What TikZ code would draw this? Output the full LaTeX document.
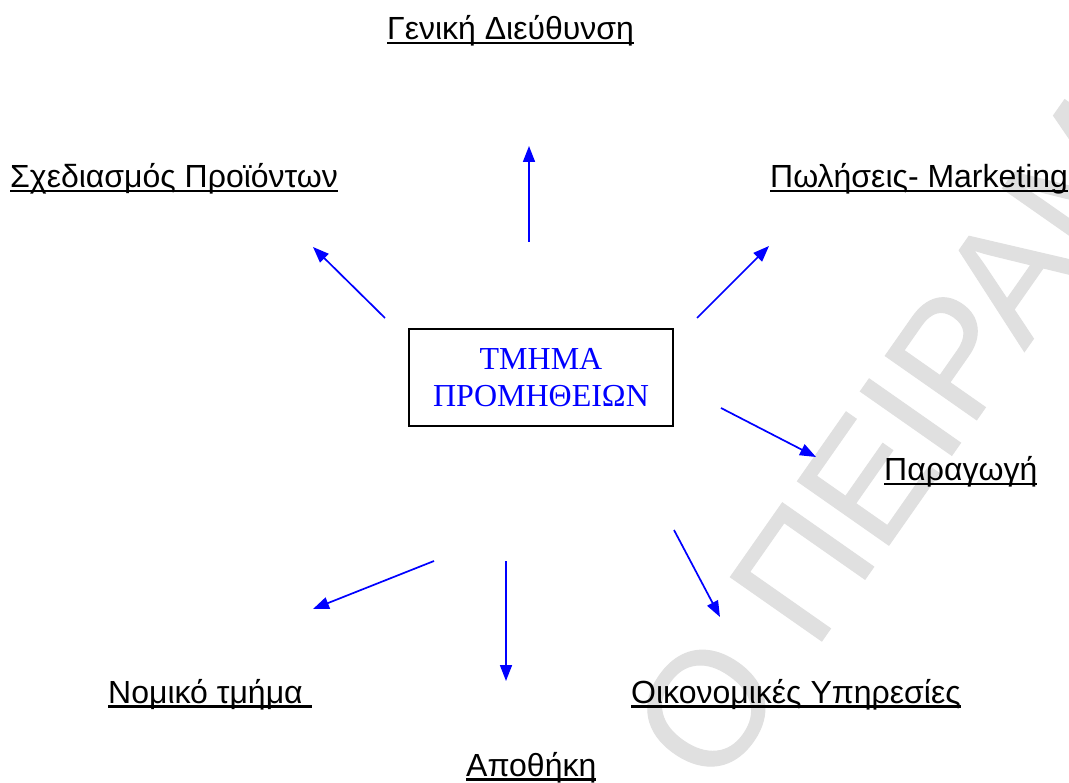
\documentclass[tikz,border=0pt]{standalone}
\usepackage{fontspec}
\setmainfont{Liberation Sans}
\newfontfamily\boxfont{Liberation Serif}
\newfontfamily\stampfont[RawFeature={embolden=0.7}]{Liberation Sans}
\usetikzlibrary{arrows.meta}
\newsavebox\ulsave
% underline sitting just below the baseline, crossing the descenders
\newcommand\ulbox[1]{\sbox\ulsave{#1}\rlap{\rule[-4.5pt]{\wd\ulsave}{2.3pt}}\usebox\ulsave}
\begin{document}
\begin{tikzpicture}[x=1pt,y=-1pt,
  dept/.style={anchor=base west, inner sep=0pt, font=\fontsize{32}{37}\selectfont},
  link/.style={blue, line width=1.7pt, -{Triangle[length=16pt,width=12pt]}},
  centre/.style={draw=black, line width=2pt, minimum width=264pt, minimum height=97pt,
    inner sep=0pt, text=blue, align=center,
    font=\boxfont\fontsize{32}{37}\selectfont},
  stamp/.style={rotate=55, anchor=base west, inner sep=0pt, text=black!12,
    font=\stampfont\fontsize{162}{190}\selectfont}]
\path[use as bounding box, fill=white] (0,0) rectangle (1069,783);

% background stamp
\begin{scope}
  \clip (0,0) rectangle (1069,783);
  \node[stamp] (wm) at (716,792) {Ο ΠΕΙΡΑΜΑ};
\end{scope}

% central department
\node[centre] (main) at (541,377.5) {ΤΜΗΜΑ\\ΠΡΟΜΗΘΕΙΩΝ};

% surrounding departments
\node[dept] (gen) at (387,40) {\ulbox{Γενική Διεύθυνση}};
\node[dept] (design) at (10,188) {\ulbox{Σχεδιασμός Προϊόντων}};
\node[dept] (sales) at (770,188) {\ulbox{Πωλήσεις- Marketing}};
\node[dept] (prod) at (884,481) {\ulbox{Παραγωγή}};
\node[dept] (fin) at (631,703) {\ulbox{Οικονομικές Υπηρεσίες}};
\node[dept] (legal) at (108,703) {\ulbox{Νομικό τμήμα\ }};
\node[dept] (store) at (466,776) {\ulbox{Αποθήκη}};

% arrow ends
\coordinate (gen-s) at (529,242);   \coordinate (gen-e) at (529,146);
\coordinate (des-s) at (385,318);   \coordinate (des-e) at (313,247);
\coordinate (sal-s) at (697,318);   \coordinate (sal-e) at (769,246);
\coordinate (pro-s) at (721,408);   \coordinate (pro-e) at (816,457);
\coordinate (fin-s) at (674,530);   \coordinate (fin-e) at (720,617);
\coordinate (sto-s) at (506,561);   \coordinate (sto-e) at (506,681);
\coordinate (leg-s) at (434,561);   \coordinate (leg-e) at (313,609);

\draw[link] (gen-s) -- (gen-e);
\draw[link] (des-s) -- (des-e);
\draw[link] (sal-s) -- (sal-e);
\draw[link] (pro-s) -- (pro-e);
\draw[link] (fin-s) -- (fin-e);
\draw[link] (sto-s) -- (sto-e);
\draw[link] (leg-s) -- (leg-e);
\end{tikzpicture}
\end{document}
